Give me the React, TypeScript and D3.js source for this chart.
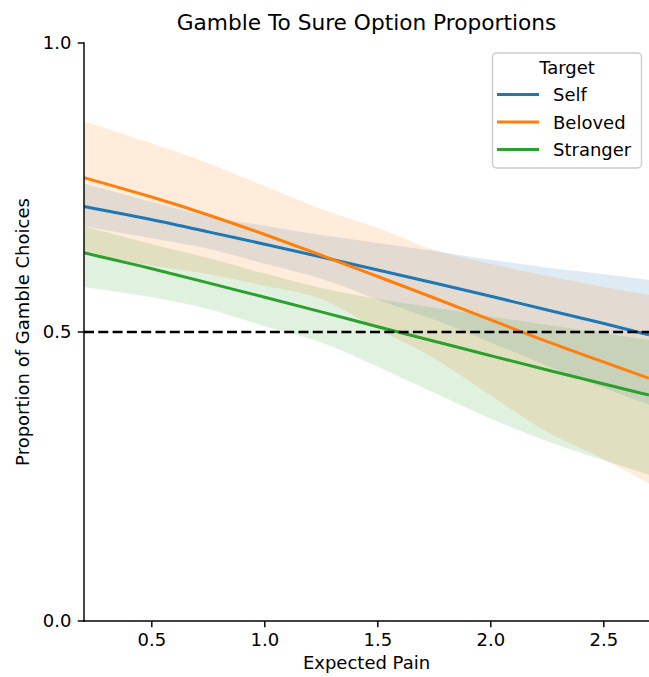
import React from "react";
import * as d3 from "d3";

const xVals = [0.2, 0.5, 0.75, 1.0, 1.25, 1.5, 1.75, 2.0, 2.25, 2.5, 2.7];

const selfMean = [0.717, 0.695, 0.673, 0.652, 0.63, 0.607, 0.585, 0.562, 0.538, 0.515, 0.495];
const selfLow = [0.683, 0.662, 0.644, 0.618, 0.592, 0.556, 0.521, 0.482, 0.441, 0.403, 0.374];
const selfHigh = [0.757, 0.725, 0.7, 0.684, 0.668, 0.654, 0.64, 0.625, 0.611, 0.6, 0.59];

const belovedMean = [0.767, 0.734, 0.703, 0.669, 0.633, 0.596, 0.559, 0.521, 0.483, 0.448, 0.42];
const belovedLow = [0.635, 0.615, 0.6, 0.58, 0.557, 0.505, 0.454, 0.39, 0.327, 0.28, 0.238];
const belovedHigh = [0.864, 0.826, 0.792, 0.752, 0.713, 0.68, 0.642, 0.618, 0.597, 0.578, 0.564];

const strangerMean = [0.637, 0.61, 0.585, 0.56, 0.535, 0.509, 0.484, 0.459, 0.434, 0.41, 0.391];
const strangerLow = [0.578, 0.56, 0.54, 0.51, 0.482, 0.44, 0.395, 0.35, 0.311, 0.278, 0.253];
const strangerHigh = [0.683, 0.652, 0.628, 0.601, 0.576, 0.557, 0.542, 0.527, 0.512, 0.498, 0.486];

const seriesNames = ["Self", "Beloved", "Stranger"];
const seriesColors = ["#1f77b4", "#ff7f0e", "#2ca02c"];
const xTicks = [0.5, 1.0, 1.5, 2.0, 2.5];
const yTicks = [0.0, 0.5, 1.0];
const refLine = 0.5;

const W = 649;
const H = 677;
const L = 84;
const R = 649;
const T = 43;
const B = 621;
const FONT = "DejaVu Sans, sans-serif";

export default function App() {
  const x = d3.scaleLinear().domain([0.2, 2.7]).range([L, R]);
  const y = d3.scaleLinear().domain([0, 1]).range([B, T]);

  const series = [
    { name: seriesNames[0], color: seriesColors[0], mean: selfMean, low: selfLow, high: selfHigh },
    { name: seriesNames[1], color: seriesColors[1], mean: belovedMean, low: belovedLow, high: belovedHigh },
    { name: seriesNames[2], color: seriesColors[2], mean: strangerMean, low: strangerLow, high: strangerHigh },
  ];

  const bandPath = (low: number[], high: number[]) =>
    d3
      .area<number>()
      .x((_, i) => x(xVals[i]))
      .y0((_, i) => y(low[i]))
      .y1((_, i) => y(high[i]))
      .curve(d3.curveMonotoneX)(xVals) || "";

  const linePath = (mean: number[]) =>
    d3
      .line<number>()
      .x((_, i) => x(xVals[i]))
      .y((_, i) => y(mean[i]))
      .curve(d3.curveBasis)(xVals) || "";

  const legX = 492.5;
  const legY = 53;
  const legRowY = [94.5, 122, 149.5];

  return (
    <svg
      width={W}
      height={H}
      style={{ position: "absolute", left: 0, top: 0, background: "#fff" }}
      fontFamily={FONT}
    >
      <rect x={0} y={0} width={W} height={H} fill="#fff" />
      <defs>
        <clipPath id="plotclip">
          <rect x={L} y={T} width={R - L} height={B - T} />
        </clipPath>
      </defs>
      <g clipPath="url(#plotclip)">
        {series.map((s) => (
          <path key={"b" + s.name} d={bandPath(s.low, s.high)} fill={s.color} fillOpacity={0.15} stroke="none" />
        ))}
        {series.map((s) => (
          <path key={"l" + s.name} d={linePath(s.mean)} fill="none" stroke={s.color} strokeWidth={3} />
        ))}
        <line
          x1={L}
          x2={R}
          y1={y(refLine)}
          y2={y(refLine)}
          stroke="#000"
          strokeWidth={2.7}
          strokeDasharray="10,4.3"
        />
      </g>

      {/* spines */}
      <line x1={L} x2={L} y1={T} y2={B} stroke="#000" strokeWidth={1.45} strokeLinecap="square" />
      <line x1={L} x2={R} y1={B} y2={B} stroke="#000" strokeWidth={1.45} strokeLinecap="square" />

      {/* y ticks */}
      {yTicks.map((t) => (
        <g key={"yt" + t}>
          <line x1={L - 6.3} x2={L} y1={y(t)} y2={y(t)} stroke="#000" strokeWidth={1.45} />
          <text x={L - 12.6} y={y(t)} dy="0.36em" textAnchor="end" fontSize={18} fill="#000">
            {d3.format(".1f")(t)}
          </text>
        </g>
      ))}

      {/* x ticks */}
      {xTicks.map((t) => (
        <g key={"xt" + t}>
          <line x1={x(t)} x2={x(t)} y1={B} y2={B + 6.3} stroke="#000" strokeWidth={1.45} />
          <text x={x(t)} y={B + 25} textAnchor="middle" fontSize={18} fill="#000">
            {d3.format(".1f")(t)}
          </text>
        </g>
      ))}

      {/* labels */}
      <text x={(L + R) / 2} y={669} textAnchor="middle" fontSize={18} fill="#000">
        Expected Pain
      </text>
      <text
        transform={`translate(29, ${(T + B) / 2}) rotate(-90)`}
        textAnchor="middle"
        fontSize={18}
        fill="#000"
      >
        Proportion of Gamble Choices
      </text>
      <text x={(L + R) / 2} y={30} textAnchor="middle" fontSize={21.7} fill="#000">
        Gamble To Sure Option Proportions
      </text>

      {/* legend */}
      <rect
        x={legX}
        y={legY}
        width={149}
        height={115}
        rx={4}
        fill="#fff"
        fillOpacity={0.8}
        stroke="#cccccc"
        strokeWidth={1.4}
      />
      <text x={legX + 74.5} y={74} textAnchor="middle" fontSize={18} fill="#000">
        Target
      </text>
      {series.map((s, i) => (
        <g key={"lg" + s.name}>
          <line x1={497} x2={539} y1={legRowY[i]} y2={legRowY[i]} stroke={s.color} strokeWidth={3} />
          <text x={553} y={legRowY[i] + 6.5} fontSize={18} fill="#000">
            {s.name}
          </text>
        </g>
      ))}
    </svg>
  );
}
